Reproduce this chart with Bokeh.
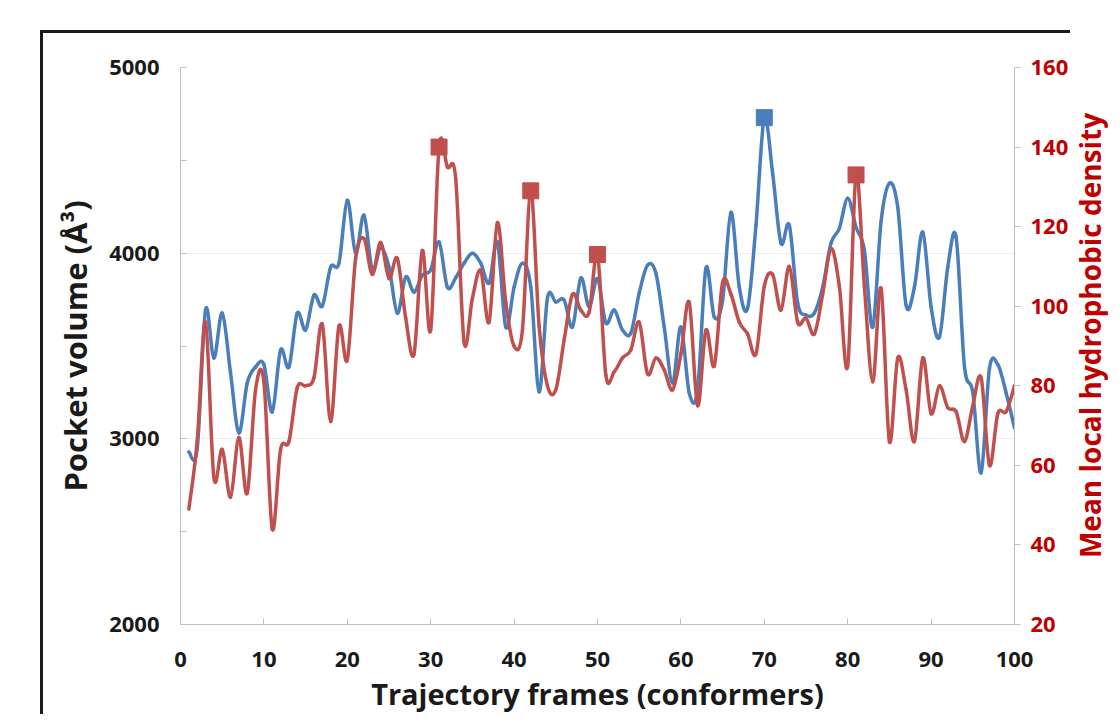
import math
from bokeh.plotting import figure
from bokeh.layouts import row
from bokeh.models import Range1d, LinearAxis, SingleIntervalTicker, ColumnDataSource, Label
from bokeh.embed import file_html
from bokeh.resources import INLINE

# ---- data ----
frames = list(range(1, 101))
pocket_volume = [
    2930, 2945, 3694, 3435, 3677, 3355, 3032, 3301, 3387, 3400,
    3145, 3478, 3387, 3677, 3586, 3774, 3715, 3925, 3946, 4285,
    4000, 4204, 3909, 4027, 3925, 3677, 3871, 3790, 3882, 3909,
    4060, 3817, 3868, 3946, 4000, 3946, 3839, 4060, 3602, 3817,
    3946, 3817, 3253, 3758, 3737, 3747, 3602, 3866, 3710, 3863,
    3624, 3694, 3586, 3570, 3785, 3935, 3892, 3602, 3301, 3602,
    3247, 3263, 3919, 3656, 3747, 4220, 3817, 3704, 4150, 4730,
    4430, 4054, 4151, 3731, 3667, 3677, 3817, 4054, 4134, 4296,
    4140, 4016, 3602, 4170, 4376, 4247, 3720, 3817, 4113, 3710,
    3548, 3925, 4086, 3390, 3250, 2817, 3380, 3400, 3247, 3059,
]
hydrophobic_density = [
    49, 66, 96, 57, 64, 52, 67, 53, 79, 81,
    44, 64, 66, 79.5, 80, 82, 95.5, 71, 95, 86.5,
    112, 117, 108, 116, 107, 112, 97, 88, 114, 94,
    140, 135, 132, 91, 102, 109, 96, 121, 101, 90,
    94, 129, 95, 80, 79, 91.5, 103, 99, 98.5, 113,
    82.7, 83.5, 87, 89, 96, 83, 87, 84, 79, 88,
    101, 75, 94, 85, 106, 103, 96, 93, 88, 105,
    108, 99, 110, 96, 97, 93, 103, 114.5, 105, 85,
    133, 105, 81, 104.5, 66, 87, 79, 66, 87, 73,
    80, 74.5, 73.5, 66, 75, 82, 60, 73, 73.5, 80,
]
blue_marker_frames = [70]
red_marker_frames = [31, 42, 50, 81]

x_ticks_interval = 10
left_range = (2000, 5000)
right_range = (20, 160)

x_title = "Trajectory frames (conformers)"
left_title = "Pocket volume (Å³)"
right_title = "Mean local hydrophobic density"

BLUE = "#4a7ebb"
RED = "#c0504d"
RED_TEXT = "#c00000"
DARK = "#1a1a1a"
FONT = "Open Sans"


def smooth_segments(xs, ys):
    """Catmull-Rom -> cubic Bezier control points for each segment."""
    n = len(xs)
    d = dict(x0=[], y0=[], x1=[], y1=[], cx0=[], cy0=[], cx1=[], cy1=[])
    for i in range(n - 1):
        xm, ym = (xs[i - 1], ys[i - 1]) if i > 0 else (xs[i], ys[i])
        xp, yp = (xs[i + 2], ys[i + 2]) if i + 2 < n else (xs[i + 1], ys[i + 1])
        d["x0"].append(xs[i]); d["y0"].append(ys[i])
        d["x1"].append(xs[i + 1]); d["y1"].append(ys[i + 1])
        d["cx0"].append(xs[i] + (xs[i + 1] - xm) / 6.0)
        d["cy0"].append(ys[i] + (ys[i + 1] - ym) / 6.0)
        d["cx1"].append(xs[i + 1] - (xp - xs[i]) / 6.0)
        d["cy1"].append(ys[i + 1] - (yp - ys[i]) / 6.0)
    return ColumnDataSource(d)


p = figure(
    width=1030, height=684,
    x_range=Range1d(0, 100), y_range=Range1d(*left_range),
    output_backend="svg", toolbar_location=None,
    min_border_left=137, min_border_right=59,
    min_border_top=34, min_border_bottom=93,
)
p.margin = (30, 0, 0, 40)
p.styles = {"border-left": "3px solid #1a1a1a", "border-top": "3px solid #1a1a1a"}
p.outline_line_color = None
p.background_fill_color = "white"
p.border_fill_color = "white"

p.extra_y_ranges = {"right": Range1d(*right_range)}

# grid
p.xgrid.grid_line_color = None
p.ygrid.grid_line_color = "#efefef"
p.ygrid.ticker = SingleIntervalTicker(interval=1000)

# bottom axis
xa = p.xaxis[0]
xa.ticker = SingleIntervalTicker(interval=x_ticks_interval, num_minor_ticks=0)
xa.axis_line_color = "#bfbfbf"
xa.major_tick_line_color = "#bfbfbf"
xa.major_tick_in = 6
xa.major_tick_out = 0
xa.major_label_text_font = FONT
xa.major_label_text_font_style = "bold"
xa.major_label_text_font_size = "22px"
xa.major_label_text_color = DARK
xa.major_label_standoff = 27
xa.axis_label = x_title
xa.axis_label_text_font = FONT
xa.axis_label_text_font_style = "bold"
xa.axis_label_text_font_size = "29px"
xa.axis_label_text_color = DARK
xa.axis_label_standoff = 4

# left axis
ya = p.yaxis[0]
ya.ticker = SingleIntervalTicker(interval=1000, num_minor_ticks=2)
ya.axis_line_color = "#bfbfbf"
ya.major_tick_line_color = "#bfbfbf"
ya.minor_tick_line_color = "#bfbfbf"
ya.major_tick_in = 6
ya.major_tick_out = 0
ya.minor_tick_in = 6
ya.minor_tick_out = 0
ya.major_label_text_font = FONT
ya.major_label_text_font_style = "bold"
ya.major_label_text_font_size = "22px"
ya.major_label_text_color = DARK
ya.major_label_standoff = 21
ya.axis_label = left_title
ya.axis_label_text_font = FONT
ya.axis_label_text_font_style = "bold"
ya.axis_label_text_font_size = "31px"
ya.axis_label_text_color = DARK
ya.axis_label_standoff = 10

# right axis
ra = LinearAxis(y_range_name="right")
ra.ticker = SingleIntervalTicker(interval=20, num_minor_ticks=0)
ra.axis_line_color = "#bfbfbf"
ra.major_tick_line_color = "#bfbfbf"
ra.major_tick_in = 0
ra.major_tick_out = 6
ra.minor_tick_line_color = None
ra.major_label_text_font = FONT
ra.major_label_text_font_style = "bold"
ra.major_label_text_font_size = "22px"
ra.major_label_text_color = RED_TEXT
ra.major_label_standoff = 10
p.add_layout(ra, "right")

# smoothed lines
blue_src = smooth_segments(frames, pocket_volume)
red_src = smooth_segments(frames, hydrophobic_density)
p.bezier(x0="x0", y0="y0", x1="x1", y1="y1", cx0="cx0", cy0="cy0", cx1="cx1", cy1="cy1",
         source=blue_src, line_color=BLUE, line_width=3.5, line_cap="round", line_join="round")
p.bezier(x0="x0", y0="y0", x1="x1", y1="y1", cx0="cx0", cy0="cy0", cx1="cx1", cy1="cy1",
         source=red_src, line_color=RED, line_width=3.5, line_cap="round", line_join="round",
         y_range_name="right")

# markers
p.scatter(x=blue_marker_frames, y=[pocket_volume[f - 1] for f in blue_marker_frames],
          marker="square", size=16, fill_color=BLUE, line_color=BLUE)
p.scatter(x=red_marker_frames, y=[hydrophobic_density[f - 1] for f in red_marker_frames],
          marker="square", size=16, fill_color=RED, line_color=RED, y_range_name="right")

# narrow side panel carrying the right-axis title (reads bottom to top)
p2 = figure(width=38, height=684, x_range=Range1d(0, 1), y_range=Range1d(0, 1),
            output_backend="svg", toolbar_location=None,
            min_border=0, min_border_left=0, min_border_right=0,
            min_border_top=0, min_border_bottom=0)
p2.margin = (30, 0, 0, 0)
p2.styles = {"border-top": "3px solid transparent"}
p2.outline_line_color = None
p2.background_fill_color = "white"
p2.border_fill_color = "white"
p2.xaxis.visible = False
p2.yaxis.visible = False
p2.grid.visible = False
p2.add_layout(Label(x=0.5, y=0.519, text=right_title, angle=math.pi / 2,
                    text_align="center", text_baseline="middle",
                    text_font=FONT, text_font_style="bold", text_font_size="28px",
                    text_color=RED_TEXT))

layout = row(p, p2)
open("out.html", "w").write(file_html(layout, INLINE))
